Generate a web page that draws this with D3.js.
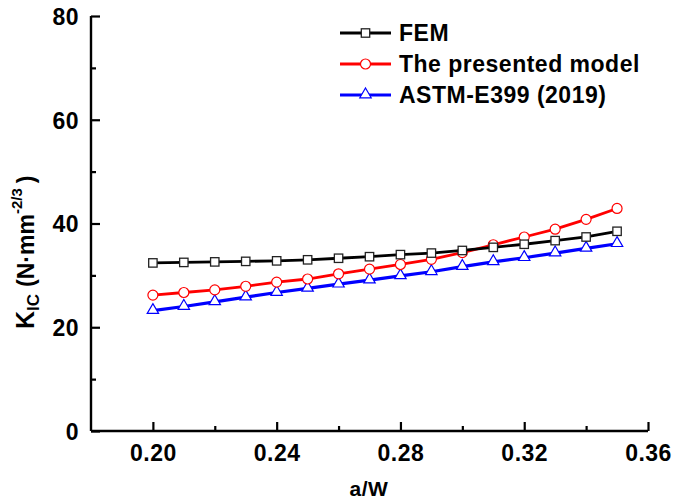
<!DOCTYPE html>
<html>
<head>
<meta charset="utf-8">
<script src="https://cdn.jsdelivr.net/npm/d3@7"></script>
<style>
  body { margin: 0; background: #fff; }
  svg { display: block; font-family: "Liberation Sans", Arial, sans-serif; font-weight: bold; }
</style>
</head>
<body>
<svg width="673" height="501"></svg>
<script>
const svg = d3.select("svg");

// data
const aW = [0.20, 0.21, 0.22, 0.23, 0.24, 0.25, 0.26, 0.27, 0.28, 0.29, 0.30, 0.31, 0.32, 0.33, 0.34, 0.35];
const femVals = [32.4, 32.5, 32.6, 32.7, 32.8, 33.0, 33.3, 33.6, 34.0, 34.3, 34.8, 35.4, 36.0, 36.7, 37.4, 38.5];
const modelVals = [26.2, 26.7, 27.2, 27.9, 28.7, 29.3, 30.3, 31.2, 32.1, 33.1, 34.4, 35.9, 37.4, 38.9, 40.8, 42.9];
const astmVals = [23.2, 24.0, 24.9, 25.8, 26.7, 27.5, 28.3, 29.1, 29.9, 30.7, 31.7, 32.6, 33.4, 34.3, 35.2, 36.1];
const xTicks = [0.20, 0.24, 0.28, 0.32, 0.36];
const xMinor = [0.22, 0.26, 0.30, 0.34];
const yTicks = [0, 20, 40, 60, 80];
const yMinor = [10, 30, 50, 70];
const seriesNames = ["FEM", "The presented model", "ASTM-E399 (2019)"];

const x = d3.scaleLinear().domain([0.18, 0.36]).range([91, 648]);
const y = d3.scaleLinear().domain([0, 80]).range([431, 16]);

// axes: ticks point inward, no top/right frame
const xAxis = svg.append("g").attr("transform", "translate(0,431)");
xAxis.call(d3.axisBottom(x).tickValues(xTicks).tickSize(-9).tickPadding(0).tickFormat(d3.format(".2f")));
xAxis.append("g").call(d3.axisBottom(x).tickValues(xMinor).tickSize(-5).tickFormat(""));
xAxis.selectAll(".domain").filter((d, i) => i > 0).remove();
xAxis.select(".domain").attr("d", "M91,0H648");

const yAxis = svg.append("g").attr("transform", "translate(91,0)");
yAxis.call(d3.axisLeft(y).tickValues(yTicks).tickSize(-9).tickPadding(0));
yAxis.append("g").call(d3.axisLeft(y).tickValues(yMinor).tickSize(-5).tickFormat(""));
yAxis.selectAll(".domain").filter((d, i) => i > 0).remove();
yAxis.select(".domain").attr("d", "M0,16V431");

svg.selectAll(".domain").attr("stroke", "#000").attr("stroke-width", 2.4);
svg.selectAll(".tick line").attr("stroke", "#000").attr("stroke-width", 2.2);
svg.selectAll(".tick text").attr("font-size", 23).attr("font-weight", "bold").attr("fill", "#000")
  .attr("letter-spacing", 0.5).attr("font-family", "'Liberation Sans', Arial, sans-serif");
xAxis.selectAll(".tick text").attr("y", 30).attr("dy", 0);
yAxis.selectAll(".tick text").attr("x", -12).attr("dy", "0.36em");

// axis titles
svg.append("text").attr("x", 369).attr("y", 496).attr("text-anchor", "middle")
  .attr("font-size", 21).attr("letter-spacing", 0.5).text("a/W");

const yl = svg.append("text").attr("transform", "translate(34,329) rotate(-90)");
yl.append("tspan").attr("font-size", 25).text("K");
yl.append("tspan").attr("font-size", 17).attr("dy", 5).text("IC");
yl.append("tspan").attr("font-size", 23).attr("dy", -5).attr("dx", 7).text("(N·mm");
yl.append("tspan").attr("font-size", 15).attr("dy", -12).text("-2/3");
yl.append("tspan").attr("font-size", 23).attr("dy", 12).attr("dx", 5).text(")");

// series
const series = [
  { name: seriesNames[2], vals: astmVals, color: "#0000ff", sym: "tri", w: 3.2 },
  { name: seriesNames[1], vals: modelVals, color: "#ff0000", sym: "circ", w: 2.8 },
  { name: seriesNames[0], vals: femVals, color: "#000000", sym: "sq", w: 2.8 }
];

function marker(g, sym, color) {
  if (sym === "sq") {
    g.append("rect").attr("x", -4.2).attr("y", -4.2).attr("width", 8.4).attr("height", 8.4)
      .attr("fill", "#fff").attr("stroke", "#222").attr("stroke-width", 1.3);
  } else if (sym === "circ") {
    g.append("circle").attr("r", 5).attr("fill", "#fff").attr("stroke", color).attr("stroke-width", 1.2);
  } else {
    g.append("path").attr("d", d3.symbol(d3.symbolTriangle, 56)()).attr("transform", "translate(0,-0.5)")
      .attr("fill", "#fff").attr("stroke", color).attr("stroke-width", 1.2);
  }
}

const line = d3.line().x(d => x(d[0])).y(d => y(d[1]));

series.forEach(s => {
  const pts = aW.map((a, i) => [a, s.vals[i]]);
  const g = svg.append("g");
  g.append("path").attr("d", line(pts)).attr("fill", "none")
    .attr("stroke", s.color).attr("stroke-width", s.w);
  pts.forEach(p => {
    const m = g.append("g").attr("transform", `translate(${x(p[0])},${y(p[1])})`);
    marker(m, s.sym, s.color);
  });
});

// legend
const legRows = [series[2], series[1], series[0]];
legRows.forEach((s, i) => {
  const ly = 33 + i * 31;
  const lg = svg.append("g").attr("transform", `translate(0,${ly})`);
  lg.append("line").attr("x1", 340).attr("x2", 391).attr("y1", 0).attr("y2", 0)
    .attr("stroke", s.color).attr("stroke-width", s.w);
  const m = lg.append("g").attr("transform", "translate(365.5,0)");
  marker(m, s.sym, s.color);
  lg.append("text").attr("x", 399).attr("y", 8).attr("font-size", 23)
    .attr("letter-spacing", 0.5).text(s.name);
});
</script>
</body>
</html>
